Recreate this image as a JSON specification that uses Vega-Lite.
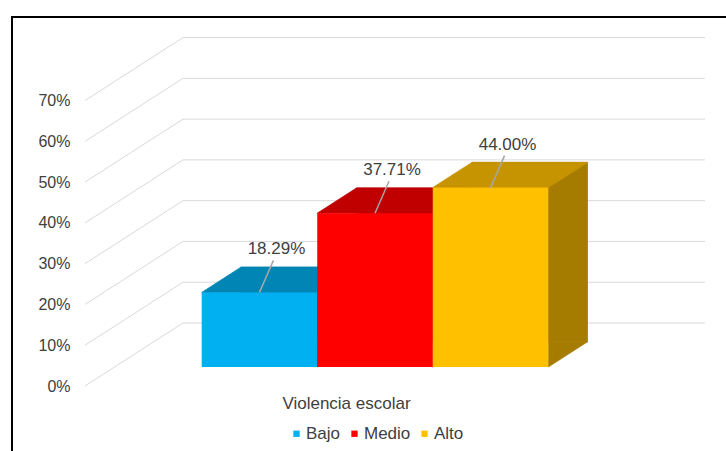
{
  "$schema": "https://vega.github.io/schema/vega-lite/v6.json",
  "autosize": {"type": "none"},
  "width": 620,
  "height": 367,
  "padding": {"left": 85, "top": 19, "right": 21, "bottom": 65},
  "background": "white",
  "config": {
    "font": "Liberation Sans",
    "view": {"stroke": null},
    "axis": {"labelFont": "Liberation Sans", "titleFont": "Liberation Sans"}
  },
  "datasets": {
    "barras": [
      {"serie": "Bajo", "valor": 0.1829},
      {"serie": "Medio", "valor": 0.3771},
      {"serie": "Alto", "valor": 0.44}
    ],
    "rejilla": [
      {"v": 0}, {"v": 0.1}, {"v": 0.2}, {"v": 0.3}, {"v": 0.4}, {"v": 0.5}, {"v": 0.6}, {"v": 0.7}
    ]
  },
  "layer": [
    {
      "data": {"name": "rejilla"},
      "mark": {"type": "rule", "color": "#d9d9d9", "strokeWidth": 1, "y2Offset": -63},
      "encoding": {
        "x": {"value": 0},
        "x2": {"value": 98},
        "y": {
          "field": "v", "type": "quantitative", "title": null,
          "scale": {"domain": [0, 0.9], "nice": false, "zero": true},
          "axis": {
            "values": [0, 0.1, 0.2, 0.3, 0.4, 0.5, 0.6, 0.7],
            "format": ".0%", "domain": false, "ticks": false, "grid": false,
            "labelPadding": 15, "labelFontSize": 16, "labelColor": "#404040"
          }
        },
        "y2": {"field": "v"}
      }
    },
    {
      "data": {"name": "rejilla"},
      "mark": {"type": "rule", "color": "#d9d9d9", "strokeWidth": 1, "yOffset": -63},
      "encoding": {
        "x": {"value": 98},
        "x2": {"value": 620},
        "y": {"field": "v", "type": "quantitative", "title": null, "scale": {"domain": [0, 0.9], "nice": false, "zero": true}}
      }
    },
    {
      "data": {"name": "barras"},
      "layer": [
        {
          "mark": {"type": "bar", "xOffset": 39.2, "x2Offset": 39.2, "yOffset": -44.2, "y2Offset": -44.2, "strokeWidth": 0.8},
          "encoding": {
            "y": {"field": "valor", "type": "quantitative", "title": null, "scale": {"domain": [0, 0.9], "nice": false, "zero": true}},
            "y2": {"datum": 0},
            "fill": {"condition": [{"test": "datum.serie === 'Bajo'", "value": "#0076a3"}, {"test": "datum.serie === 'Medio'", "value": "#a00000"}], "value": "#a67c00"},
            "stroke": {"condition": [{"test": "datum.serie === 'Bajo'", "value": "#0076a3"}, {"test": "datum.serie === 'Medio'", "value": "#a00000"}], "value": "#a67c00"}
          }
        },
        {
          "mark": {"type": "point", "filled": true, "opacity": 1, "strokeWidth": 0.8, "size": 40000, "yOffset": -19,
            "shape": "M0.5776,-0.252L0.9696,-0.252L0.5776,0Z"},
          "encoding": {
            "y": {"datum": 0, "type": "quantitative", "scale": {"domain": [0, 0.9], "nice": false, "zero": true}},
            "fill": {"condition": [{"test": "datum.serie === 'Bajo'", "value": "#0076a3"}, {"test": "datum.serie === 'Medio'", "value": "#a00000"}], "value": "#a67c00"},
            "stroke": {"condition": [{"test": "datum.serie === 'Bajo'", "value": "#0076a3"}, {"test": "datum.serie === 'Medio'", "value": "#a00000"}], "value": "#a67c00"}
          }
        },
        {
          "mark": {"type": "point", "filled": true, "opacity": 1, "strokeWidth": 0.8, "size": 40000, "yOffset": -19,
            "shape": "M-0.5776,0L0.5776,0L0.9696,-0.252L-0.1856,-0.252Z"},
          "encoding": {
            "y": {"field": "valor", "type": "quantitative", "title": null, "scale": {"domain": [0, 0.9], "nice": false, "zero": true}},
            "fill": {"condition": [{"test": "datum.serie === 'Bajo'", "value": "#0085b4"}, {"test": "datum.serie === 'Medio'", "value": "#c00000"}], "value": "#c69400"},
            "stroke": {"condition": [{"test": "datum.serie === 'Bajo'", "value": "#0085b4"}, {"test": "datum.serie === 'Medio'", "value": "#c00000"}], "value": "#c69400"}
          }
        },
        {
          "mark": {"type": "bar", "yOffset": -19, "y2Offset": -19},
          "encoding": {
            "y": {"field": "valor", "type": "quantitative", "title": null, "scale": {"domain": [0, 0.9], "nice": false, "zero": true}},
            "y2": {"datum": 0},
            "color": {
              "field": "serie", "type": "nominal",
              "scale": {"domain": ["Bajo", "Medio", "Alto"], "range": ["#00b0f0", "#ff0000", "#ffc000"]},
              "legend": {
                "title": null, "orient": "none", "direction": "horizontal",
                "legendX": 203, "legendY": 406, "padding": 0,
                "symbolType": "square", "symbolSize": 40, "symbolStrokeWidth": 0,
                "labelFontSize": 17, "labelColor": "#404040", "labelOffset": 1,
                "columnPadding": 5
              }
            }
          }
        },
        {
          "mark": {"type": "point", "filled": false, "opacity": 1, "size": 40000, "yOffset": -19,
            "stroke": "#a6a6a6", "strokeWidth": 1.5, "shape": "M0,0L0.14,-0.32"},
          "encoding": {
            "y": {"field": "valor", "type": "quantitative", "title": null, "scale": {"domain": [0, 0.9], "nice": false, "zero": true}}
          }
        },
        {
          "mark": {"type": "text", "fontSize": 17, "color": "#404040", "dx": 17, "dy": -43, "yOffset": -19, "baseline": "middle", "align": "center"},
          "encoding": {
            "y": {"field": "valor", "type": "quantitative", "title": null, "scale": {"domain": [0, 0.9], "nice": false, "zero": true}},
            "text": {"field": "valor", "type": "quantitative", "format": ".2%"}
          }
        }
      ],
      "encoding": {
        "x": {
          "field": "serie", "type": "nominal",
          "scale": {"type": "band", "domain": ["Bajo", "Medio", "Alto"], "paddingInner": 0, "paddingOuter": 0, "range": [116.7, 463.3]},
          "axis": {
            "title": "Violencia escolar", "labels": false, "ticks": false, "domain": false, "grid": false,
            "titleX": 261, "titleY": 17, "titleAlign": "center", "titleBaseline": "middle",
            "titleFontSize": 17, "titleFontWeight": "normal", "titleColor": "#404040"
          }
        }
      }
    },
    {
      "data": {"values": [{}]},
      "mark": {"type": "rule", "color": "#000000", "strokeWidth": 2},
      "encoding": {"x": {"value": -73}, "y": {"value": -2}, "y2": {"value": 440}}
    },
    {
      "data": {"values": [{}]},
      "mark": {"type": "rule", "color": "#000000", "strokeWidth": 2},
      "encoding": {"x": {"value": -74}, "x2": {"value": 650}, "y": {"value": -2}}
    }
  ]
}
